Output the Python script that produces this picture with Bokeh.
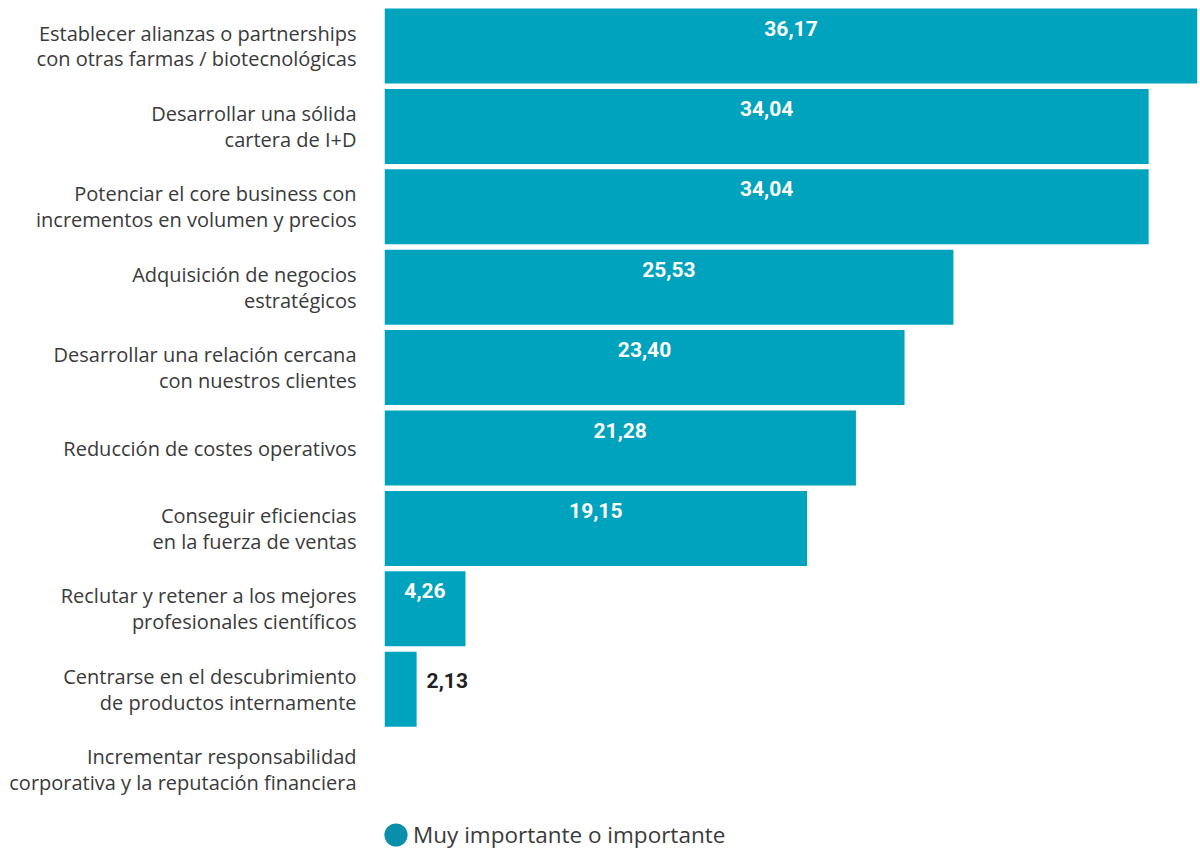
from bokeh.plotting import figure
from bokeh.models import Range1d, FixedTicker, ColumnDataSource, Legend, LegendItem
from bokeh.core.properties import value
from bokeh.embed import file_html
from bokeh.resources import INLINE

categories = [
    "Establecer alianzas o partnerships\ncon otras farmas / biotecnológicas",
    "Desarrollar una sólida\ncartera de I+D",
    "Potenciar el core business con\nincrementos en volumen y precios",
    "Adquisición de negocios\nestratégicos",
    "Desarrollar una relación cercana\ncon nuestros clientes",
    "Reducción de costes operativos",
    "Conseguir eficiencias\nen la fuerza de ventas",
    "Reclutar y retener a los mejores\nprofesionales científicos",
    "Centrarse en el descubrimiento\nde productos internamente",
    "Incrementar responsabilidad\ncorporativa y la reputación financiera",
]
values = [36.17, 34.04, 34.04, 25.53, 23.40, 21.28, 19.15, 4.26, 2.13, 0.0]
value_labels = ["36,17", "34,04", "34,04", "25,53", "23,40", "21,28", "19,15", "4,26", "2,13", ""]
series_name = "Muy importante o importante"

BAR = "#00A3BE"
DOT = "#0A8FAA"
TXT = "#3a3a3a"
FONT = "Open Sans"
NUMFONT = "Roboto"

x_start, x_end = 0.73, 36.17
pos = list(range(len(categories)))

p = figure(width=1200, height=850, output_backend="svg", toolbar_location=None,
           x_range=Range1d(x_start, x_end), y_range=Range1d(10.006, -0.566),
           min_border_left=384, min_border_right=3, min_border_top=0, min_border_bottom=0)
p.outline_line_color = None
p.xgrid.visible = False
p.ygrid.visible = False
p.xaxis.visible = False
p.background_fill_color = "white"
p.border_fill_color = "white"

# bars (zero-valued categories draw nothing)
nz = [i for i, v in enumerate(values) if v > 0]
src = ColumnDataSource(dict(y=[pos[i] for i in nz], right=[values[i] for i in nz]))
p.hbar(y="y", left=0, right="right", height=0.933, source=src,
       fill_color=BAR, line_color=None)

# value labels: inside (white) for wide bars, outside (dark) for narrow bars
ins = [i for i, v in enumerate(values) if v >= 3 and value_labels[i]]
out = [i for i, v in enumerate(values) if 0 < v < 3 and value_labels[i]]
src_in = ColumnDataSource(dict(x=[(x_start + values[i]) / 2 for i in ins],
                               y=[pos[i] for i in ins],
                               t=[value_labels[i] for i in ins]))
p.text(x="x", y="y", text="t", source=src_in, text_align="center", text_baseline="middle",
       y_offset=-18, text_color="white", text_font=value(NUMFONT), text_font_style="bold",
       text_font_size="21px")
src_out = ColumnDataSource(dict(x=[values[i] for i in out],
                                y=[pos[i] for i in out],
                                t=[value_labels[i] for i in out]))
p.text(x="x", y="y", text="t", source=src_out, text_align="left", text_baseline="middle",
       x_offset=10, y_offset=-9, text_color="#222222", text_font=value(NUMFONT),
       text_font_style="bold", text_font_size="21px")

ax = p.yaxis[0]
ax.ticker = FixedTicker(ticks=pos)
ax.major_label_overrides = {i: c for i, c in zip(pos, categories)}
ax.axis_line_color = None
ax.major_tick_line_color = None
ax.minor_tick_line_color = None
ax.major_tick_in = 0
ax.major_tick_out = 0
ax.major_label_standoff = 28
ax.major_label_text_font = FONT
ax.major_label_text_font_size = "20px"
ax.major_label_text_color = TXT
ax.major_label_text_line_height = 0.96

# legend (dummy renderer, nothing visible in the plot)
nan = float("nan")
dummy = p.ellipse(x=[nan], y=[nan], width=23, height=23, width_units="screen",
                  height_units="screen", fill_color=DOT, line_color=None)
legend = Legend(items=[LegendItem(label=series_name, renderers=[dummy])],
                location=(-3, 0), orientation="horizontal",
                glyph_width=29, glyph_height=29, label_standoff=3,
                padding=0, margin=0, spacing=0,
                border_line_color=None, background_fill_alpha=0,
                label_text_font=FONT, label_text_font_size="22.5px",
                label_text_color=TXT)
p.add_layout(legend, "center")

open("out.html", "w").write(file_html(p, INLINE))
